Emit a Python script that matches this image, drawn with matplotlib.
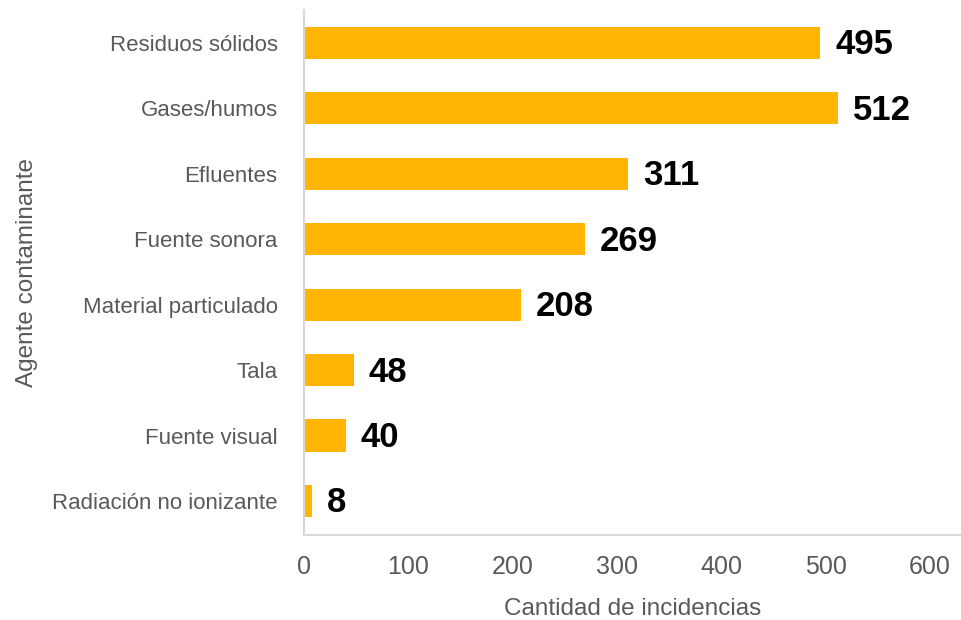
import matplotlib
matplotlib.use("Agg")
import matplotlib.pyplot as plt

plt.rcParams["font.family"] = ["Liberation Sans", "DejaVu Sans"]

# 카테고리 (위에서 아래 순서)
categories = [
    "Residuos sólidos",
    "Gases/humos",
    "Efluentes",
    "Fuente sonora",
    "Material particulado",
    "Tala",
    "Fuente visual",
    "Radiación no ionizante",
]
counts = [495, 512, 311, 269, 208, 48, 40, 8]
x_ticks = [0, 100, 200, 300, 400, 500, 600]

bar_color = "#FFB501"
text_gray = "#595959"
spine_gray = "#D9D9D9"

fig = plt.figure(figsize=(9.61, 6.2), dpi=100)
ax = fig.add_axes([0.3163, 0.137, 0.683, 0.847])

pos = list(range(len(categories)))[::-1]
ax.barh(pos, counts, height=0.49, color=bar_color)

for p, v in zip(pos, counts):
    ax.text(v + 14, p - 0.03, str(v), va="center", ha="left",
            fontsize=25, fontweight="bold", color="black")

ax.set_yticks(pos)
ax.set_yticklabels(categories, fontsize=16, color=text_gray)
ax.set_xticks(x_ticks)
ax.set_xticklabels([str(t) for t in x_ticks], fontsize=18, color=text_gray)
ax.tick_params(axis="both", length=0)
ax.tick_params(axis="y", pad=19)
ax.tick_params(axis="x", pad=14)

ax.set_xlim(0, 629)
ax.set_ylim(-0.52, 7.5)

for s in ["top", "right"]:
    ax.spines[s].set_visible(False)
for s in ["left", "bottom"]:
    ax.spines[s].set_color(spine_gray)
    ax.spines[s].set_linewidth(1.5)

ax.set_xlabel("Cantidad de incidencias", fontsize=17.5, color=text_gray)
ax.set_ylabel("Agente contaminante", fontsize=17.5, color=text_gray)
ax.xaxis.set_label_coords(0.5, -0.12)
ax.yaxis.set_label_coords(-0.405, 0.5)

fig.savefig("out.png", dpi=100)
